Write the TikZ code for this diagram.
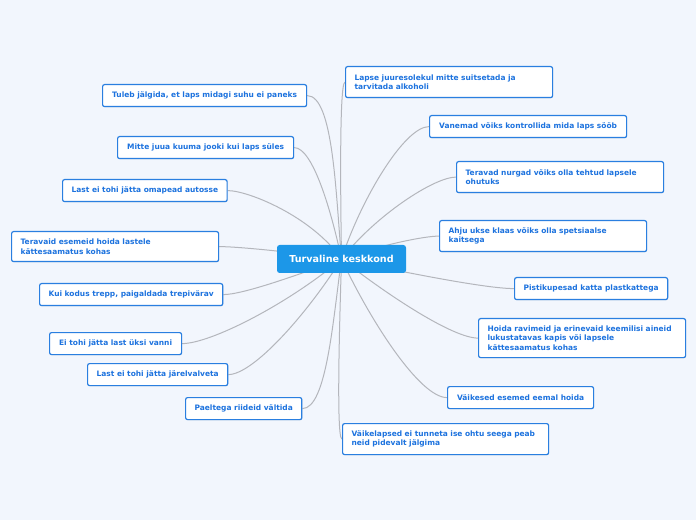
\documentclass[tikz,border=0pt]{standalone}
\usepackage{fontspec}
\setmainfont{DejaVu Sans}
\usetikzlibrary{backgrounds,shadows}
\definecolor{bgblue}{HTML}{F2F6FD}
\definecolor{leafblue}{HTML}{2A7FE0}
\definecolor{leaftext}{HTML}{1C72DE}
\definecolor{rootblue}{HTML}{1C97E8}
\definecolor{branchgray}{HTML}{B4B6BC}
\begin{document}
\begin{tikzpicture}[x=0.75pt,y=-0.75pt,
    leaf/.style={draw=leafblue,line width=0.9pt,fill=white,rounded corners=1.5pt,
      anchor=north west,align=left,inner xsep=6.75pt,inner ysep=2pt,
      minimum height=16.5pt,
      text=leaftext,font=\fontsize{5.6}{7}\selectfont\bfseries,
      drop shadow={opacity=0.18,shadow xshift=0.4pt,shadow yshift=-0.5pt}},
    wide/.style={leaf,text width=141.75pt},
    root/.style={fill=rootblue,text=white,rounded corners=2pt,
      minimum width=96.75pt,minimum height=21pt,inner sep=0pt,
      font=\fontsize{7.2}{9}\selectfont\bfseries},
    branch/.style={draw=branchgray,line width=0.75pt,in looseness=0.4}]
    \useasboundingbox (0,0) rectangle (696,520);
    \node[root] (c) at (341.5,259) {Turvaline keskkond};
    % left side
    \node[leaf,minimum width=153pt] (b1) at (102,84) {Tuleb jälgida, et laps midagi suhu ei paneks};
    \node[leaf,minimum width=132pt] (b2) at (117,136) {Mitte juua kuuma jooki kui laps süles};
    \node[leaf,minimum width=123pt] (b3) at (62,179) {Last ei tohi jätta omapead autosse};
    \node[wide,minimum height=22.5pt] (b4) at (11,231) {Teravaid esemeid hoida lastele\\kättesaamatus kohas};
    \node[leaf,minimum width=136.5pt] (b5) at (39,283) {Kui kodus trepp, paigaldada trepivärav};
    \node[leaf,minimum width=99pt] (b6) at (49,332) {Ei tohi jätta last üksi vanni};
    \node[leaf,minimum width=105pt] (b7) at (87,363) {Last ei tohi jätta järelvalveta};
    \node[leaf,minimum width=87pt] (b8) at (185,397) {Paeltega riideid vältida};
    % right side
    \node[wide,minimum height=23.25pt] (b9) at (345,66) {Lapse juuresolekul mitte suitsetada ja\\tarvitada alkoholi};
    \node[leaf,minimum width=147.75pt] (b10) at (429,115) {Vanemad võiks kontrollida mida laps sööb};
    \node[wide,minimum height=23.25pt] (b11) at (456,161) {Teravad nurgad võiks olla tehtud lapsele\\ohutuks};
    \node[wide,minimum height=23.25pt] (b12) at (439,220) {Ahju ukse klaas võiks olla spetsiaalse\\kaitsega};
    \node[leaf,minimum width=114.75pt] (b13) at (514,277) {Pistikupesad katta plastkattega};
    \node[wide,minimum height=29.25pt] (b14) at (478,318) {Hoida ravimeid ja erinevaid keemilisi aineid\\lukustatavas kapis või lapsele\\kättesaamatus kohas};
    \node[leaf,minimum width=109.5pt] (b15) at (447,386) {Väikesed esemed eemal hoida};
    \node[wide,text width=141pt,minimum height=23.25pt] (b16) at (342,423) {Väikelapsed ei tunneta ise ohtu seega peab\\neid pidevalt jälgima};
    \begin{scope}[on background layer]
      \fill[bgblue] (0,0) rectangle (696,520);
      \draw[branch] (c.center) to[out=95,in=0] (b1.east);
      \draw[branch] (c.center) to[out=102,in=0] (b2.east);
      \draw[branch] (c.center) to[out=125,in=0] (b3.east);
      \draw[branch] (c.center) to[out=172,in=0] (b4.east);
      \draw[branch] (c.center) to[out=200,in=0] (b5.east);
      \draw[branch] (c.center) to[out=220,in=0] (b6.east);
      \draw[branch] (c.center) to[out=238,in=0] (b7.east);
      \draw[branch] (c.center) to[out=262,in=0] (b8.east);
      \draw[branch] (c.center) to[out=90,in=180,looseness=0.1] (b9.west);
      \draw[branch] (c.center) to[out=72,in=180] (b10.west);
      \draw[branch] (c.center) to[out=52,in=180] (b11.west);
      \draw[branch] (c.center) to[out=20,in=180] (b12.west);
      \draw[branch] (c.center) to[out=-12,in=180] (b13.west);
      \draw[branch] (c.center) to[out=-38,in=180] (b14.west);
      \draw[branch] (c.center) to[out=-65,in=180] (b15.west);
      \draw[branch] (c.center) to[out=-90,in=180,looseness=0.1] (b16.west);
    \end{scope}
\end{tikzpicture}
\end{document}
